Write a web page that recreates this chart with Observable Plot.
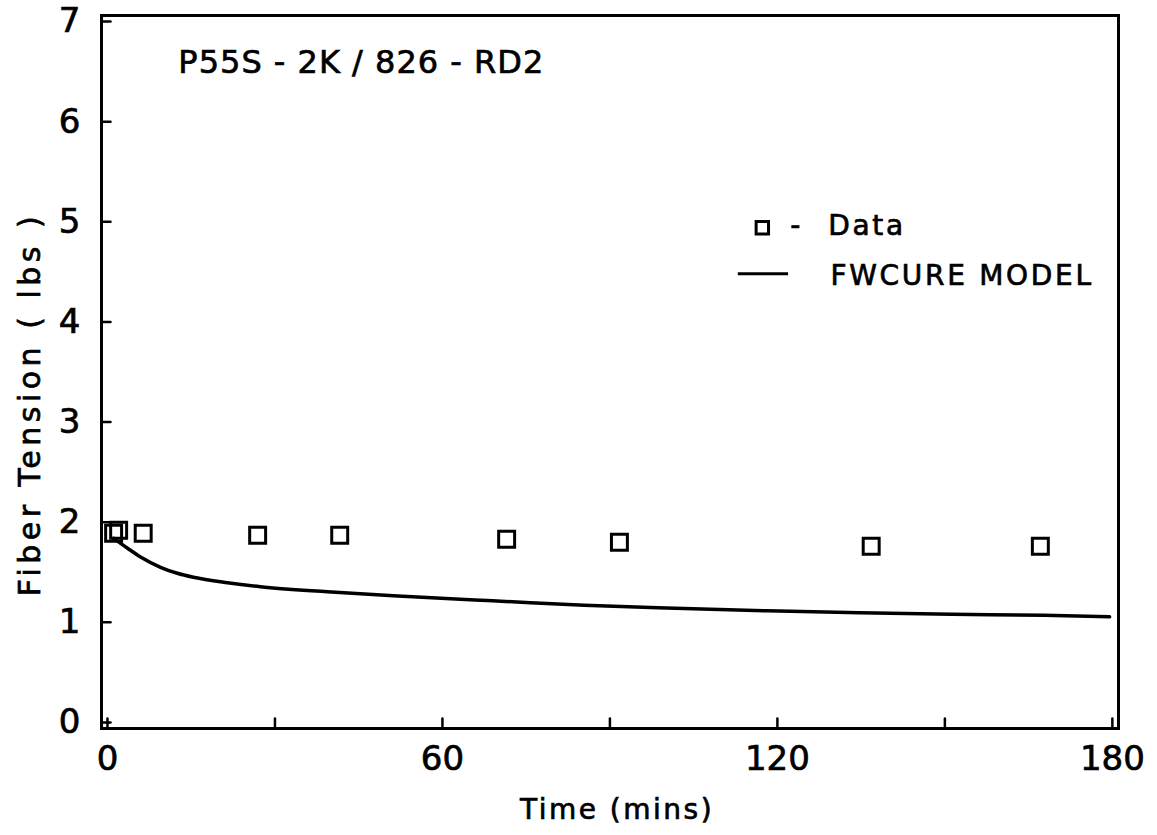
<!DOCTYPE html>
<html>
<head>
<meta charset="utf-8">
<script src="https://cdn.jsdelivr.net/npm/d3@7"></script>
<script src="https://cdn.jsdelivr.net/npm/@observablehq/plot@0.6"></script>
<style>
  html, body { margin: 0; padding: 0; background: #fff; }
  /* slightly heavier, plotter-like lettering */
  #chart svg text { stroke: #000; stroke-width: 0.7px; }
  [aria-description="chart-title"] text { letter-spacing: 1px; }
  [aria-description="legend-text"] text { letter-spacing: 2.7px; }
  [aria-description="x-title"] text { letter-spacing: 2.5px; }
  [aria-description="y-title"] text { letter-spacing: 4.5px; }
</style>
</head>
<body>
<div id="chart"></div>
<script>
// Measured fiber tension during cure (time in minutes, tension in lbs)
const dataTime    = [1.1, 2.0, 6.4, 26.9, 41.6, 71.5, 91.7, 136.8, 167.1];
const dataTension = [1.89, 1.92, 1.89, 1.87, 1.87, 1.83, 1.80, 1.76, 1.76];

// FWCURE model prediction
const modelTime    = [1.1, 3.6, 6.0, 9.5, 12.5, 15.4, 21.5, 27.4, 39.4, 51.2, 63.2, 69.0, 85.4, 101.7, 118.2, 134.7, 151.2, 167.7, 179.5];
const modelTension = [1.84, 1.74, 1.65, 1.55, 1.49, 1.45, 1.395, 1.355, 1.305, 1.265, 1.23, 1.215, 1.17, 1.14, 1.115, 1.095, 1.08, 1.07, 1.055];

// Axis ticks and labels
const xTickLabels = [0, 60, 120, 180];
const xTickMarks  = [0, 30, 60, 90, 120, 150, 180];
const yTickLabels = [0, 1, 2, 3, 4, 5, 6, 7];

const chartTitle = "P55S - 2K / 826 - RD2";
const xTitle = "Time (mins)";
const yTitle = "Fiber Tension ( lbs )";
const legendLabels = ["Data", "FWCURE MODEL"];

const points = dataTime.map((t, i) => ({t, v: dataTension[i]}));
const model  = modelTime.map((t, i) => ({t, v: modelTension[i]}));

const xDomain = [-1.07, 181.1];
const yDomain = [-0.06, 7.06];

// short inward tick stroke drawn by vector marks
const tickShape = {draw(context, l) { context.moveTo(0, 0); context.lineTo(0, -l); }};

const font = "DejaVu Sans, sans-serif";

const chart = Plot.plot({
  width: 1157,
  height: 835,
  marginLeft: 101,
  marginRight: 39,
  marginTop: 15,
  marginBottom: 107,
  style: {fontFamily: font, background: "#fff", color: "#000"},
  x: {domain: xDomain},
  y: {domain: yDomain},
  marks: [
    Plot.frame({stroke: "#000", strokeWidth: 3}),
    // tick labels
    Plot.axisX(xTickLabels, {tickSize: 0, tickPadding: 17, fontSize: 34, tickFormat: d => String(d), label: null}),
    Plot.axisY(yTickLabels, {tickSize: 0, tickPadding: 21, fontSize: 34, tickFormat: d => String(d), label: null}),
    // inward ticks
    Plot.vector(xTickMarks, {x: d => d, y: yDomain[0], length: 10, rotate: 0, anchor: "start", shape: tickShape, stroke: "#000", strokeWidth: 2.5}),
    Plot.vector(yTickLabels, {x: xDomain[0], y: d => d, length: 9, rotate: 90, anchor: "start", shape: tickShape, stroke: "#000", strokeWidth: 2.5}),
    // model curve
    Plot.line(model, {x: "t", y: "v", curve: "monotone-x", stroke: "#000", strokeWidth: 3.5}),
    // measured data
    Plot.dot(points, {x: "t", y: "v", symbol: "square", r: 9, stroke: "#000", strokeWidth: 3, fill: "none"}),
    // title inside the frame
    Plot.text([chartTitle], {x: 12.7, y: 6.59, text: d => d, textAnchor: "start", fontSize: 32, ariaDescription: "chart-title"}),
    // legend
    Plot.dot([legendLabels[0]], {x: 117.3, y: 4.94, symbol: "square", r: 7, stroke: "#000", strokeWidth: 3, fill: "none"}),
    Plot.text(["-"], {x: 122.3, y: 4.96, text: d => d, textAnchor: "start", fontSize: 28}),
    Plot.text([legendLabels[0]], {x: 129.1, y: 4.96, text: d => d, textAnchor: "start", fontSize: 28, ariaDescription: "legend-text"}),
    Plot.ruleY([4.48], {x1: 113.0, x2: 122.0, stroke: "#000", strokeWidth: 3}),
    Plot.text([legendLabels[1]], {x: 129.5, y: 4.46, text: d => d, textAnchor: "start", fontSize: 28, ariaDescription: "legend-text"}),
    // axis titles
    Plot.text([xTitle], {frameAnchor: "bottom", text: d => d, textAnchor: "middle", lineAnchor: "middle", dx: 7, dy: 82, fontSize: 28, ariaDescription: "x-title"}),
    Plot.text([yTitle], {frameAnchor: "left", text: d => d, textAnchor: "middle", lineAnchor: "middle", rotate: -90, dx: -71, dy: 32, fontSize: 30, ariaDescription: "y-title"})
  ]
});

document.getElementById("chart").appendChild(chart);
</script>
</body>
</html>
